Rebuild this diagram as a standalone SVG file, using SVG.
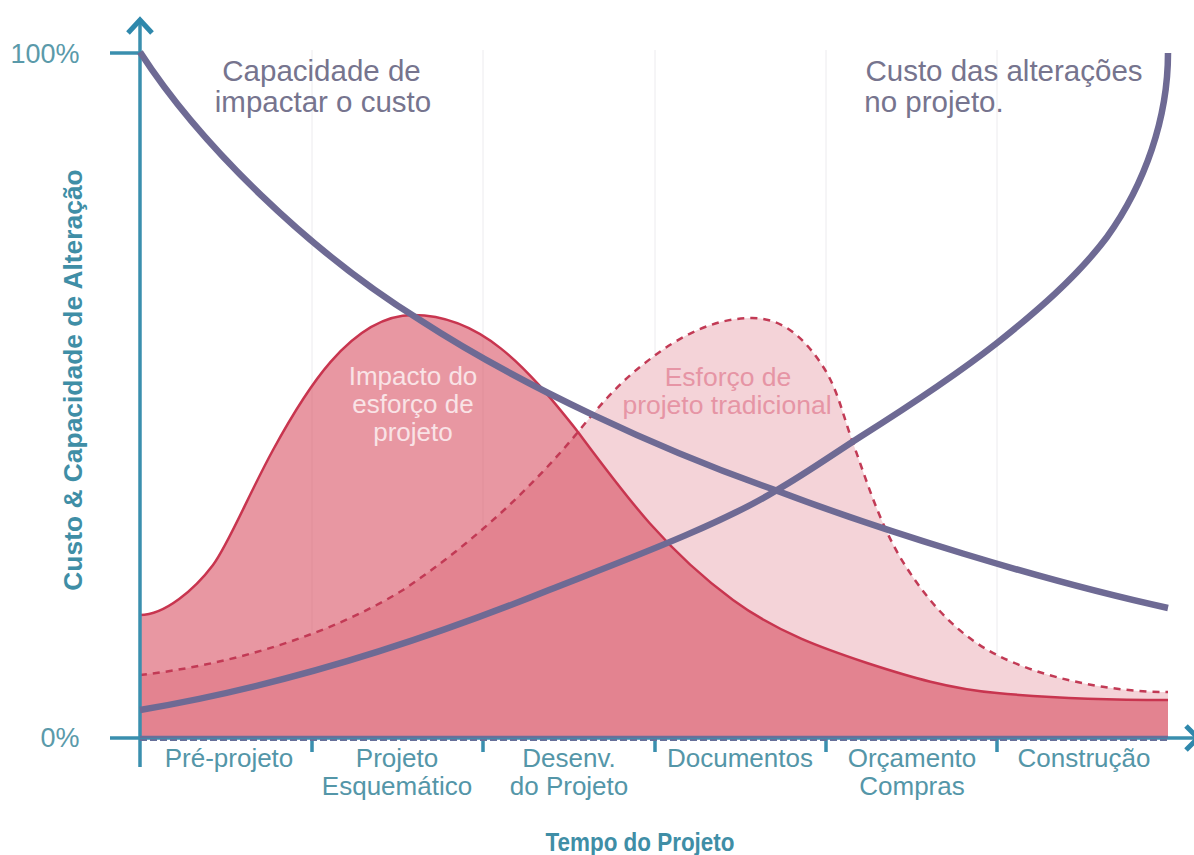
<svg xmlns="http://www.w3.org/2000/svg" width="1194" height="855" viewBox="0 0 1194 855">
<style>
text{font-family:"Liberation Sans",Arial,sans-serif}
.ax{fill:none;stroke:#3a8fae;stroke-width:3.5}
.head{fill:none;stroke:#2f88ac;stroke-width:5}
.grid{stroke:#ecebee;stroke-width:1}
.lab{fill:#5496a8;font-size:26px;text-anchor:middle}
.tick{fill:#5a9aaa;font-size:27px;text-anchor:middle}
.big{fill:#76748e;font-size:29.5px;text-anchor:middle}
.in{fill:#f9e3e6;font-size:26px;text-anchor:middle}
.out{fill:#e695a5;font-size:26.5px;text-anchor:middle}
.cost{fill:none;stroke:#6e6a94;stroke-width:6.5}
</style>
<rect width="1194" height="855" fill="#fff"/>
<g id="grid">
<path class="grid" d="M312 50V738M483 50V738M655 50V738M826 50V738M997 50V738"/>
</g>
<g id="areas">
<path id="area-tradicional" fill="#f4d3d8" d="M140 675C230 665 330 635 403 590C470 545 530 490 578 432C600 405 620 382 645 363C680 335 715 318 752 318C785 318 806 341 822 365C838 389 843 416 853 443C867 482 879 521 900 557C924 597 955 634 997 655C1042 678 1110 692 1168 692V738H140Z"/>
<path id="area-impacto" fill="#d54256" fill-opacity=".55" d="M140 615C165 615 195 589 213 565C228 545 248 496 273 450C303 395 350 315 413 315C480 315 525 365 578 432C625 495 665 550 733 600C778 633 825 649 867 663C910 677 950 689 997 693C1050 698 1110 700 1168 700V738H140Z"/>
<path fill="none" stroke="#c23a55" stroke-width="2.5" stroke-dasharray="7 6" d="M140 675C230 665 330 635 403 590C470 545 530 490 578 432C600 405 620 382 645 363C680 335 715 318 752 318C785 318 806 341 822 365C838 389 843 416 853 443C867 482 879 521 900 557C924 597 955 634 997 655C1042 678 1110 692 1168 692"/>
<path fill="none" stroke="#c8354f" stroke-width="2.5" d="M140 615C165 615 195 589 213 565C228 545 248 496 273 450C303 395 350 315 413 315C480 315 525 365 578 432C625 495 665 550 733 600C778 633 825 649 867 663C910 677 950 689 997 693C1050 698 1110 700 1168 700"/>
</g>
<g id="axes">
<path class="ax" d="M140 767V22"/>
<path class="head" d="M128 33L140 20L152 33"/>
<path class="ax" d="M110 53H140"/>
<path class="ax" d="M110 738H1194"/>
<path class="head" d="M1186 726L1198 738L1186 750"/>
<path class="ax" d="M312 738V752M483 738V752M655 738V752M826 738V752M997 738V752"/>
<path fill="none" stroke="#66709a" stroke-width="2.5" d="M140 737H1168"/>
<path fill="none" stroke="#66709a" stroke-width="2" stroke-dasharray="7 3" d="M140 740H1168"/>
</g>
<g id="connectors">
<path id="capacidade" class="cost" d="M140 52C200 145 310 252 420 320C520 385 660 450 775 490C880 530 1040 580 1168 608"/>
<path id="custo" class="cost" d="M140 710C260 690 400 650 549 590C620 562 720 525 777 490C805 474 832 455 860 437C906 408 951 379 997 343C1036 312 1077 277 1107 237C1145 184 1168 118 1168 53"/>
</g>
<g id="labels">
<text class="tick" x="45" y="63">100%</text>
<text class="tick" x="60" y="747">0%</text>
<text class="big" x="321.5" y="81">Capacidade de</text>
<text class="big" x="323" y="112">impactar o custo</text>
<text class="big" x="1004" y="81">Custo das alterações</text>
<text class="big" x="934" y="112">no projeto.</text>
<text class="in" x="413" y="385">Impacto do</text>
<text class="in" x="413" y="413">esforço de</text>
<text class="in" x="413" y="441">projeto</text>
<text class="out" x="728" y="386">Esforço de</text>
<text class="out" x="727" y="414">projeto tradicional</text>
<text class="lab" x="229" y="767">Pré-projeto</text>
<text class="lab" x="397" y="767">Projeto</text>
<text class="lab" x="397" y="795">Esquemático</text>
<text class="lab" x="569" y="767">Desenv.</text>
<text class="lab" x="569" y="795">do Projeto</text>
<text class="lab" x="740" y="767">Documentos</text>
<text class="lab" x="912" y="767">Orçamento</text>
<text class="lab" x="912" y="795">Compras</text>
<text class="lab" x="1084" y="767">Construção</text>
<text x="640" y="851" fill="#3f8ea6" font-size="25" font-weight="700" text-anchor="middle" textLength="189" lengthAdjust="spacingAndGlyphs">Tempo do Projeto</text>
<text transform="translate(82 380) rotate(-90)" fill="#3f8ea6" font-size="26.4" font-weight="700" text-anchor="middle">Custo &amp; Capacidade de Alteração</text>
</g>
</svg>
